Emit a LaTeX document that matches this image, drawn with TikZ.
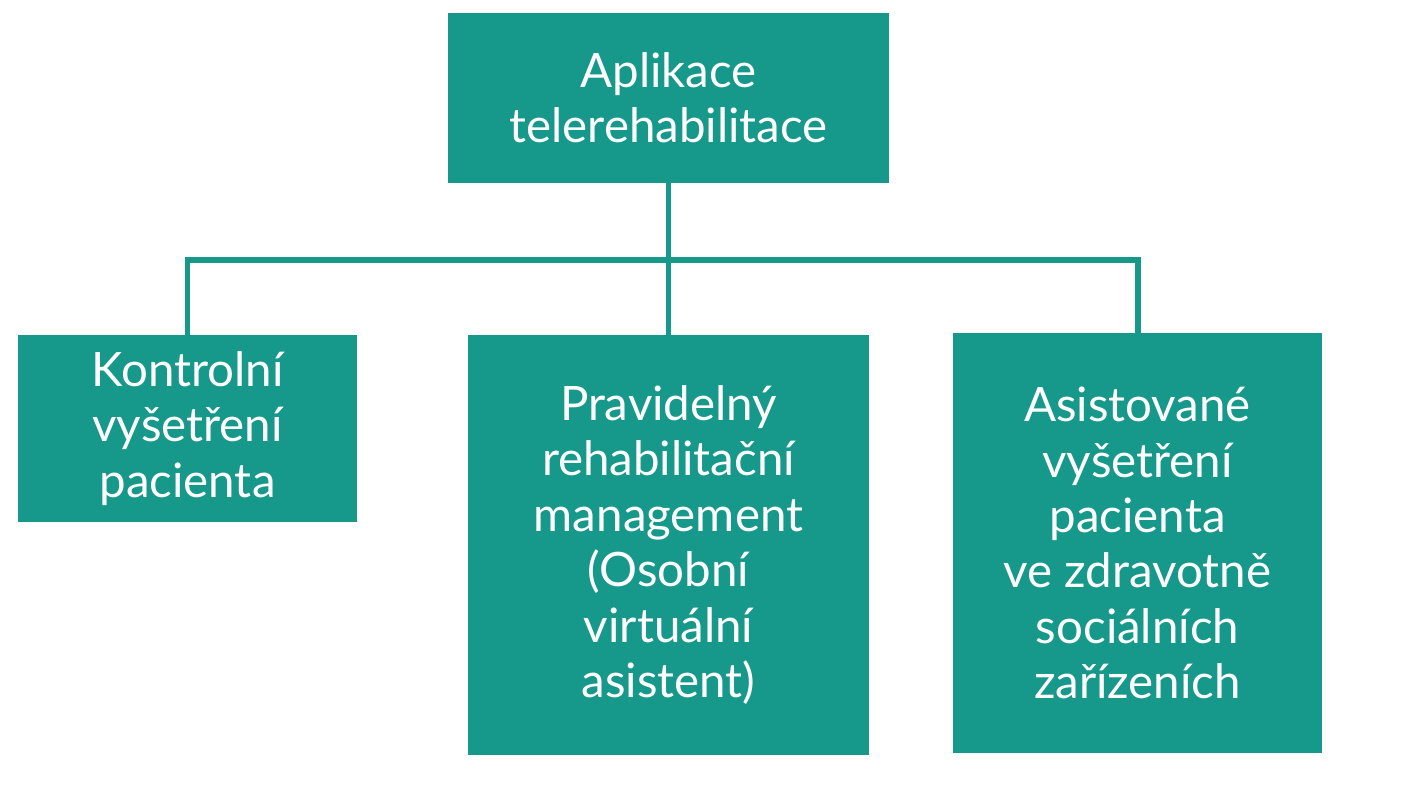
\documentclass[tikz,border=0pt]{standalone}
\usepackage{fontspec}
\setmainfont{Lato}
\usepackage{xcolor}
\definecolor{tealbox}{HTML}{16988A}
\begin{document}
\begin{tikzpicture}[x=0.02cm,y=-0.02cm,
    box/.style={fill=tealbox, text=white, align=center, inner sep=0pt,
        font=\fontsize{27}{31.5}\selectfont},
    link/.style={draw=tealbox, line width=3.4pt}]
    \useasboundingbox (0,0) rectangle (1406,800);
    % Boxes
    \node[box, minimum width=441*0.02cm, minimum height=170*0.02cm] (app) at (668.5,98) {Aplikace\\telerehabilitace};
    \node[box, minimum width=339*0.02cm, minimum height=187*0.02cm] (kontrol) at (187.5,428.5) {Kontrolní\\vyšetření\\pacienta};
    \node[box, minimum width=401*0.02cm, minimum height=420*0.02cm] (prav) at (668.5,545) {Pravidelný\\rehabilitační\\management\\(Osobní\\virtuální\\asistent)};
    \node[box, minimum width=369*0.02cm, minimum height=420*0.02cm] (asist) at (1137.5,543) {Asistované\\vyšetření\\pacienta\\ve zdravotně\\sociálních\\zařízeních};
    % Connectors
    \coordinate (hub) at (668.5,260);
    \draw[link] (app.south) -- (prav.north);
    \draw[link] (kontrol.north) |- (hub) -| (asist.north);
\end{tikzpicture}
\end{document}
